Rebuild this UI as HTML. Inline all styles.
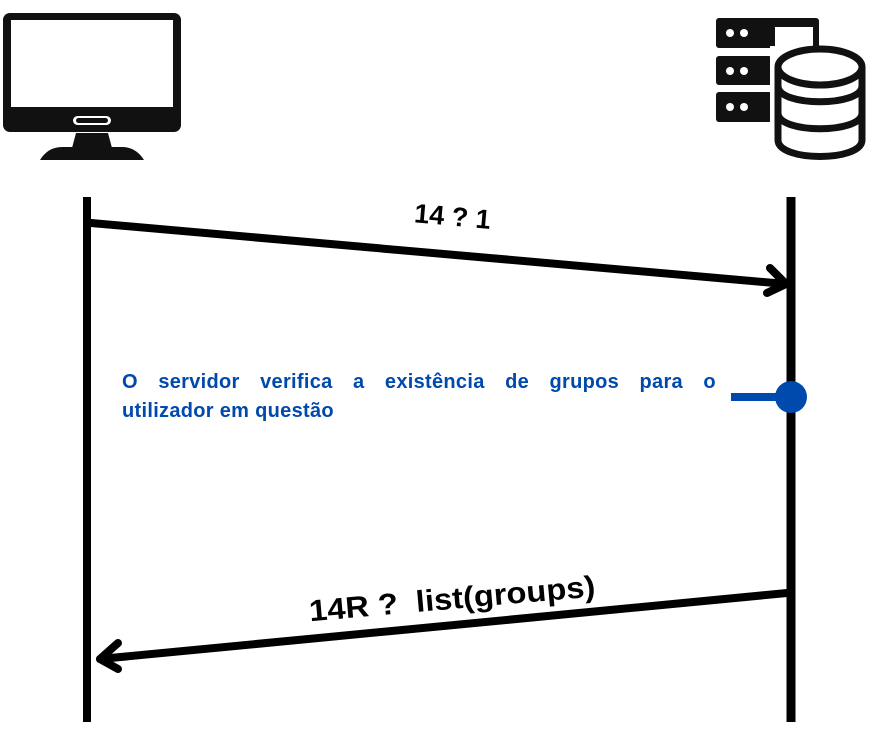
<!DOCTYPE html>
<html><head><meta charset="utf-8"><style>
body{margin:0;background:#fff;width:883px;height:736px;overflow:hidden;position:relative}
svg{position:absolute;left:0;top:0}
.t{position:absolute;left:122px;top:368px;width:594px;font:bold 20px "Liberation Sans",sans-serif;letter-spacing:0.3px;color:#0049ad;line-height:29px}
.l1{white-space:nowrap;display:flex;justify-content:space-between}
</style></head><body>
<svg width="883" height="736" viewBox="0 0 883 736">
<rect x="3" y="13" width="178" height="119" rx="7" fill="#111"/>
<rect x="11" y="20" width="162" height="87" fill="#fff"/>
<rect x="73" y="116" width="38" height="9" rx="4.5" fill="#fff"/>
<rect x="76" y="118" width="32" height="5" rx="2.5" fill="#111"/>
<polygon points="76,133 108,133 112,148 72,148" fill="#111"/>
<path d="M40,160 Q48,147 62,147 L122,147 Q136,147 144,160 Z" fill="#111"/>
<rect x="716" y="18" width="103" height="30" rx="3" fill="#111"/>
<rect x="775" y="27" width="38" height="21" fill="#fff"/>
<rect x="716" y="56" width="56" height="29" rx="3" fill="#111"/>
<rect x="716" y="92" width="56" height="30" rx="3" fill="#111"/>
<g fill="#fff"><circle cx="730" cy="33" r="4"/><circle cx="744" cy="33" r="4"/><circle cx="730" cy="71" r="4"/><circle cx="744" cy="71" r="4"/><circle cx="730" cy="107" r="4"/><circle cx="744" cy="107" r="4"/></g>
<path d="M770,46 L770,162 L870,162 L870,46 Z" fill="#fff"/>
<g fill="none" stroke="#111" stroke-width="7">
<ellipse cx="820" cy="67" rx="42" ry="18"/>
<path d="M778,67 L778,140 C778,162 862,162 862,140 L862,67"/>
<path d="M778,86 C778,107 862,107 862,86"/>
<path d="M778,113 C778,134 862,134 862,113"/>
</g>
<line x1="87" y1="197" x2="87" y2="722" stroke="#000" stroke-width="8"/>
<line x1="791" y1="197" x2="791" y2="722" stroke="#000" stroke-width="9"/>
<g stroke="#000" stroke-width="8" stroke-linecap="round" stroke-linejoin="round" fill="none">
<line x1="91" y1="223" x2="786" y2="284"/>
<polyline points="770,268 786,284 767,293"/>
<line x1="787" y1="593" x2="100" y2="659"/>
<polyline points="118,643 100,659 118,669"/>
</g>
<line x1="731" y1="397" x2="780" y2="397" stroke="#0049ad" stroke-width="8"/>
<circle cx="791" cy="397" r="16" fill="#0049ad"/>
<text x="414" y="226" font-family="Liberation Sans,sans-serif" font-weight="bold" font-size="27" transform="rotate(5 457 220)">14 ? 1</text>
<text x="308" y="609" font-family="Liberation Sans,sans-serif" font-weight="bold" font-size="30" transform="rotate(-5 450 592)" textLength="287" lengthAdjust="spacingAndGlyphs" xml:space="preserve">14R ?  list(groups)</text>
</svg>
<div class="t"><div class="l1"><span>O</span><span>servidor</span><span>verifica</span><span>a</span><span>existência</span><span>de</span><span>grupos</span><span>para</span><span>o</span></div><div>utilizador em questão</div></div>
</body></html>
